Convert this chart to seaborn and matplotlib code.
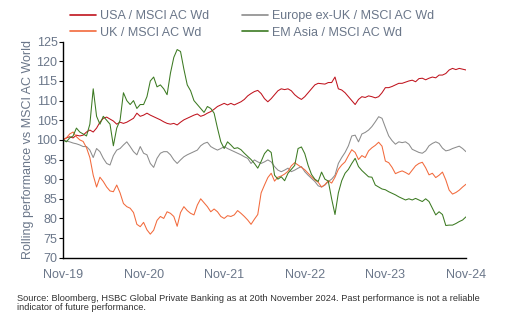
import numpy as np
import pandas as pd
import matplotlib
matplotlib.use("Agg")
import matplotlib.pyplot as plt
import seaborn as sns

# ---- data (semi-monthly readings, Nov-2019 .. Nov-2024, rebased to 100) ----
usa = [100, 100.5, 100.8, 100.5, 101.2, 101, 101.2, 102, 102.5, 102, 103, 104.5, 105.5, 105.8, 105.3, 104.8,
       104, 104.5, 104.2, 104.5, 105, 105.5, 106.8, 106, 106.3, 106.8, 106.3, 105.9, 105.5, 105.1, 104.6, 104.2,
       104, 104.2, 103.8, 104.5, 105.1, 105.5, 105.9, 106.3, 106.6, 106, 106.3, 106.8, 107.2, 107.8, 108.5, 108.9,
       109.3, 108.9, 109.3, 108.9, 109.3, 109.7, 110.3, 111.2, 111.8, 112.3, 112.6, 111.8, 110.5, 109.7, 110.5, 111.5,
       112.5, 113, 112.8, 113, 112.5, 111.5, 110.8, 110.3, 111, 112, 113, 114, 114.4, 114.3, 114.2, 114.6,
       114.6, 116, 113, 112.7, 112, 111, 110, 109, 110.3, 111, 110.8, 111.2, 111, 110.7, 111, 112,
       113.3, 113.3, 113.6, 114, 114.4, 114.4, 114.7, 115, 115.2, 114.8, 115.6, 115.7, 115.3, 115.7, 116, 115.8,
       116.5, 116.5, 116.9, 117.8, 118.2, 117.9, 118.2, 118, 117.8]
europe = [100, 99.7, 99.5, 99.2, 99, 98.7, 98.3, 98.3, 97.4, 95.5, 97.8, 97, 95.3, 94, 93.6, 96,
          97.4, 97.8, 98.7, 99.5, 98.3, 97, 96.2, 98.3, 96.6, 96.2, 94, 93, 95.3, 96.6, 97, 97,
          96.2, 94.9, 94, 94.9, 95.7, 96.2, 96.6, 97, 97.4, 98.5, 99.1, 99.4, 98.3, 97.8, 97.4, 97.8,
          98.3, 97.8, 97.4, 97, 96.6, 96.2, 95.7, 95.3, 94, 94.9, 94.4, 94, 94.4, 94.9, 94.4, 93.2,
          92.3, 91.9, 92.3, 92.8, 91.9, 92.3, 92.8, 93.2, 91.9, 91, 90.2, 89.4, 88.3, 88, 88.5, 89.4,
          90, 91, 94, 95.5, 96.8, 98.5, 101, 101.2, 99.5, 101.5, 101.9, 102.5, 103.4, 104.6, 105.9, 105.5,
          103.2, 101, 99.8, 98.9, 99.5, 99.3, 99.5, 98.9, 97.6, 97.2, 96.8, 96.6, 97.2, 98.5, 99.1, 99.5,
          99.1, 97.9, 97.2, 97.4, 97.8, 98.1, 98.4, 97.8, 97]
uk = [100, 100.5, 101.5, 102, 100.8, 100, 99.6, 98, 95.5, 91, 88, 90.5, 89.4, 88, 87, 86.8,
      88.5, 86.5, 83.8, 83, 82.6, 81.5, 78.5, 77.9, 79, 77.1, 76, 77, 79.5, 80.5, 80, 81.7,
      81.3, 80.5, 78, 81.5, 83, 82, 81.3, 80.9, 83.4, 85, 84, 83, 81.7, 82.4, 81.7, 80.5,
      80, 80.7, 80.5, 80.9, 82, 81.3, 80.5, 79.6, 78.5, 79.8, 81, 86.5, 88.5, 90.4, 91.5, 89.5,
      90.5, 90.8, 91.3, 92, 93.4, 94.2, 93.6, 93, 92.4, 91.5, 90.6, 89.8, 89.2, 88, 88.6, 89.6,
      89, 90.5, 92.5, 93.6, 94.4, 96, 97.5, 96.8, 95, 96, 95.5, 97.2, 98, 98.6, 99.4, 98.4,
      94.6, 94.2, 93, 91.4, 91.8, 92.1, 91.7, 91.2, 92.3, 93.4, 94, 94.3, 92.9, 91.1, 91.5, 90.4,
      91, 91.8, 89.8, 87.2, 86.2, 86.6, 87.2, 88, 88.7]
em_asia = [100, 99.5, 100.5, 101, 103, 102, 101.5, 101, 104, 113, 106, 104, 106, 105, 104, 98.5,
           103, 105, 112, 110, 109, 110, 108, 109, 109, 111, 115, 116, 113.5, 114, 113, 111.5,
           117, 121, 123, 122.5, 118, 114, 112.5, 110, 109, 108, 107, 108.5, 108, 106.8, 103, 99.5,
           97.8, 99.5, 98.7, 97.8, 98, 97.5, 96.6, 95.8, 95, 94, 92.8, 94.5, 96.5, 97.5, 96.8, 91,
           90, 90.6, 89.6, 91.5, 92.5, 93.5, 97.8, 98.2, 96.5, 93.5, 91.2, 90, 89.4, 91.8, 90, 89.5,
           85, 81, 86.5, 89.6, 91.5, 92.5, 94, 95.3, 93.2, 92.2, 91.4, 90.6, 90.5, 88.5, 88, 87.5,
           87.3, 86.8, 86.4, 86, 85.5, 85.1, 84.7, 85, 84.7, 85.1, 84.7, 84.3, 85, 84.3, 82.6, 80.9,
           81.7, 81, 78.2, 78.3, 78.3, 78.7, 79.2, 79.6, 80.4]

series_names = ["USA / MSCI AC Wd", "Europe ex-UK / MSCI AC Wd",
                "UK / MSCI AC Wd", "EM Asia / MSCI AC Wd"]
tick_labels = ["Nov-19", "Nov-20", "Nov-21", "Nov-22", "Nov-23", "Nov-24"]
y_ticks = list(range(70, 126, 5))

dates = pd.date_range("2019-11-20", "2024-11-20", periods=len(usa))
df = pd.concat([
    pd.DataFrame({"date": dates, "value": v, "series": n})
    for n, v in zip(series_names, [usa, europe, uk, em_asia])
])

palette = {
    "USA / MSCI AC Wd": "#C0141E",
    "Europe ex-UK / MSCI AC Wd": "#8C8C8C",
    "UK / MSCI AC Wd": "#F26A3C",
    "EM Asia / MSCI AC Wd": "#3C7A22",
}

sns.set_theme(style="white")
plt.rcParams["font.family"] = ["Liberation Sans", "DejaVu Sans"]

text_col = "#6A7689"
fig = plt.figure(figsize=(5.13, 3.28), dpi=100)
ax = fig.add_axes([0.1228, 0.2143, 0.7855, 0.6586])

sns.lineplot(data=df, x="date", y="value", hue="series", hue_order=series_names,
             palette=palette, linewidth=0.75, ax=ax, legend=False)

ax.set_xlim(pd.Timestamp("2019-11-20"), pd.Timestamp("2024-11-20"))
ax.set_ylim(70, 125)
ax.set_yticks(y_ticks)
tick_dates = [pd.Timestamp(f"20{y}-11-20") for y in range(19, 25)]
ax.set_xticks(tick_dates)
ax.set_xticklabels(tick_labels)
ax.tick_params(axis="y", which="both", left=True, length=3, width=0.8, color="black",
               labelsize=9, labelcolor=text_col, pad=1)
ax.tick_params(axis="x", bottom=False, labelsize=9, labelcolor=text_col, pad=2)
ax.set_xlabel("")
ax.set_ylabel("Rolling performance vs MSCI AC World", fontsize=9, color=text_col, labelpad=2)
for s in ["top", "right"]:
    ax.spines[s].set_visible(False)
for s in ["left", "bottom"]:
    ax.spines[s].set_color("black")
    ax.spines[s].set_linewidth(1.0)

leg_order = ["USA / MSCI AC Wd", "UK / MSCI AC Wd", "Europe ex-UK / MSCI AC Wd", "EM Asia / MSCI AC Wd"]
handles = [plt.Line2D([], [], color=palette[n], linewidth=1.2) for n in leg_order]
leg = fig.legend(handles, leg_order, ncol=2, loc="upper left", bbox_to_anchor=(0.127, 0.984),
                 frameon=False, fontsize=9, handlelength=2.1, handletextpad=0.3,
                 columnspacing=2.6, labelspacing=0.35, borderaxespad=0)
for t in leg.get_texts():
    t.set_color(text_col)

fig.text(0.033, 0.076, "Source: Bloomberg, HSBC Global Private Banking as at 20th November 2024. Past performance is not a reliable\nindicator of future performance.",
         fontsize=6.7, color="#333333", ha="left", va="center", linespacing=1.1)

fig.savefig("out.png", dpi=100)
